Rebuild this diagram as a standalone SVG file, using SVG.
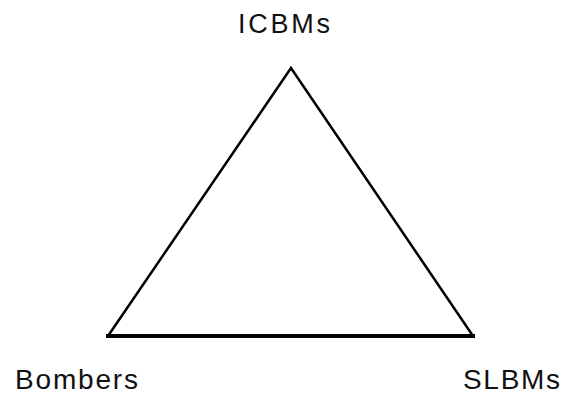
<svg xmlns="http://www.w3.org/2000/svg" width="566" height="395" viewBox="0 0 566 395">
<style>
text{font-family:"Liberation Sans",Arial,sans-serif;fill:#111;}
.side{stroke:#000;stroke-width:2.5;fill:none;stroke-linejoin:miter;}
.base{stroke:#000;stroke-width:4;fill:none;}
</style>
<rect width="566" height="395" fill="#fff"/>
<g id="connectors">
<path class="side" d="M108,336 L291,68 L473,336"/>
<line class="base" x1="106" y1="336" x2="475" y2="336"/>
</g>
<g id="icbms"><text x="238" y="33" font-size="27" textLength="92" lengthAdjust="spacing">ICBMs</text></g>
<g id="bombers"><text x="15" y="389" font-size="28" textLength="123" lengthAdjust="spacing">Bombers</text></g>
<g id="slbms"><text x="463" y="389" font-size="28" textLength="97" lengthAdjust="spacing">SLBMs</text></g>
</svg>
